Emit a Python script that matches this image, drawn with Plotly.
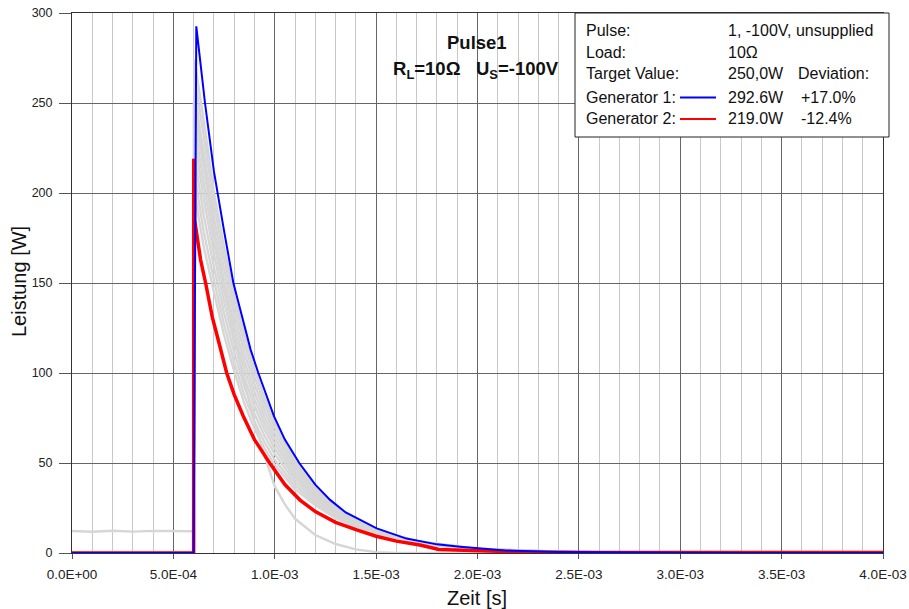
import plotly.graph_objects as go

# ---------------- data (time in ms, power in W) ----------------
blue_t_ms = [0, 0.600, 0.613, 0.656, 0.70, 0.717, 0.75, 0.796, 0.85, 0.881, 0.919, 0.95,
             0.996, 1.05, 1.121, 1.20, 1.273, 1.35, 1.503, 1.65, 1.80, 1.914, 2.14, 2.40,
             2.70, 3.00, 4.00]
blue_v = [0, 0, 292.6, 250, 212, 200, 179, 150, 127, 113, 100, 90,
          76, 63, 50, 38, 29.5, 22.5, 13.7, 8, 4.8, 3.5, 1.4, 0.6,
          0.2, 0.1, 0]

red_t_ms = [0, 0.600, 0.6005, 0.603, 0.605, 0.634, 0.659, 0.692, 0.729, 0.763, 0.80, 0.845,
            0.90, 0.975, 1.05, 1.125, 1.20, 1.30, 1.404, 1.50, 1.60, 1.716, 1.81, 2.00,
            2.20, 2.60, 3.00, 4.00]
red_v = [0, 0, 219, 217, 185, 163, 150, 131, 115, 100, 88, 76,
         63, 50, 38, 29.4, 23, 17, 12.8, 9.3, 6.6, 4.4, 2.0, 1.1,
         0.6, 0.3, 0.3, 0.3]

grey_t_ms = [0, 0.600, 0.604, 0.65, 0.70, 0.75, 0.80, 0.85, 0.90, 0.95, 1.00, 1.10, 1.20,
             1.30, 1.40, 1.50, 1.70, 2.00, 2.50, 3.00, 4.00]
grey_1 = [0, 0, 200, 170, 145, 121, 101, 83, 69, 58, 49, 35.5, 26.5, 19.5, 14.2, 10.3, 5.2, 1.8, 0.3, 0.1, 0]
grey_2 = [0, 0, 210, 178.4, 151.6, 126.9, 106, 87.6, 73, 61.4, 51.8, 37.4, 27.7, 20.3, 14.7, 10.6, 5.4, 1.9, 0.3, 0.1, 0]
grey_3 = [0, 0, 220, 187.5, 158.8, 133.3, 111.5, 92.5, 77.3, 65, 54.9, 39.5, 29, 21.1, 15.2, 11, 5.5, 1.9, 0.3, 0.1, 0]
grey_4 = [0, 0, 230, 196.6, 165.9, 139.6, 117, 97.4, 81.5, 68.6, 57.9, 41.6, 30.3, 22, 15.8, 11.3, 5.7, 2, 0.3, 0.1, 0]
grey_5 = [0, 0, 238, 205, 172.5, 145.5, 122, 102, 85.5, 72, 60.8, 43.5, 31.5, 22.8, 16.3, 11.7, 5.9, 2.1, 0.35, 0.1, 0]
grey_6 = [0, 0, 246, 213.4, 179.1, 151.4, 127, 106.6, 89.5, 75.4, 63.6, 45.4, 32.7, 23.5, 16.7, 12, 6, 2.1, 0.36, 0.1, 0]
grey_7 = [0, 0, 255, 222.5, 186.3, 157.8, 132.5, 111.5, 93.8, 79, 66.6, 47.5, 34, 24.4, 17.3, 12.3, 6.2, 2.2, 0.38, 0.1, 0]
grey_8 = [0, 0, 264, 231.6, 193.4, 164.1, 138, 116.4, 98, 82.6, 69.7, 49.6, 35.3, 25.2, 17.8, 12.7, 6.4, 2.2, 0.39, 0.1, 0]
grey_9 = [0, 0, 274, 240, 200, 170, 143, 121, 102, 86, 72.5, 51.5, 36.5, 26, 18.3, 13, 6.5, 2.3, 0.4, 0.1, 0]

fast_t_ms = [0, 0.10, 0.20, 0.30, 0.40, 0.50, 0.598, 0.601, 0.65, 0.70, 0.75, 0.80, 0.85,
             0.90, 0.95, 1.00, 1.05, 1.10, 1.20, 1.30, 1.40, 1.50, 1.60, 2.00, 3.00, 4.00]
fast_v = [12.2, 11.8, 12.4, 11.9, 12.3, 12.0, 12.1, 250, 215, 180, 148, 120, 95,
          73, 54, 37, 27, 19, 10, 5, 2, 0.5, 0, 0, 0, 0]

x_tickvals = [0, 5e-4, 1e-3, 1.5e-3, 2e-3, 2.5e-3, 3e-3, 3.5e-3, 4e-3]
x_ticktext = ["0.0E+00", "5.0E-04", "1.0E-03", "1.5E-03", "2.0E-03",
              "2.5E-03", "3.0E-03", "3.5E-03", "4.0E-03"]
y_tickvals = [0, 50, 100, 150, 200, 250, 300]

box_labels = ["Pulse:", "Load:", "Target Value:", "Generator 1:", "Generator 2:"]
box_values = ["1, -100V, unsupplied", "10Ω", "250,0W", "292.6W", "219.0W"]
box_extra = ["", "", "Deviation:", "+17.0%", "-12.4%"]


def sec(lst):
    return [v * 1e-3 for v in lst]


# ---------------- figure ----------------
fig = go.Figure()
GREY = "#d6d6d6"
for g in [grey_1, grey_2, grey_3, grey_4, grey_5, grey_6, grey_7, grey_8, grey_9]:
    fig.add_trace(go.Scatter(x=sec(grey_t_ms), y=g, mode="lines",
                             line=dict(color=GREY, width=2.4), hoverinfo="skip"))
fig.add_trace(go.Scatter(x=sec(fast_t_ms), y=fast_v, mode="lines",
                         line=dict(color=GREY, width=2.4), hoverinfo="skip"))
fig.add_trace(go.Scatter(x=sec(red_t_ms), y=red_v, mode="lines",
                         line=dict(color="#ff0000", width=3.5), name="Generator 2"))
fig.add_trace(go.Scatter(x=sec(blue_t_ms), y=blue_v, mode="lines",
                         line=dict(color="#0000ff", width=2), name="Generator 1"))

FONT = "Liberation Sans"
W, H = 909, 609
# plot area in page pixels: x 72..883, y 13..553
L, T, R, B = 72, 13, W - 883, H - 553
pw, ph = W - L - R, H - T - B


def px(x):  # page pixel -> paper
    return (x - L) / pw


def py(y):
    return (H - B - y) / ph


fig.update_layout(
    width=W, height=H,
    margin=dict(l=L, r=R, t=T, b=B, autoexpand=False),
    paper_bgcolor="white", plot_bgcolor="white",
    showlegend=False,
    font=dict(family=FONT, size=12, color="#222"),
)
fig.update_xaxes(
    range=[0, 4e-3], tickmode="array", tickvals=x_tickvals, ticktext=x_ticktext,
    automargin=False, ticklabeloverflow="allow",
    showgrid=True, gridcolor="#666666", gridwidth=1,
    minor=dict(tick0=0, dtick=1e-4, showgrid=True, gridcolor="#c8c8c8", gridwidth=1, ticks=""),
    showline=True, linecolor="#333333", linewidth=1, mirror=True,
    ticks="outside", ticklen=5, tickcolor="#555555", ticklabelstandoff=4,
    tickfont=dict(family=FONT, size=13.5, color="#222"), zeroline=False,
)
fig.update_yaxes(
    range=[0, 300], tickmode="array", tickvals=y_tickvals,
    automargin=False, ticklabeloverflow="allow",
    showgrid=True, gridcolor="#666666", gridwidth=1,
    showline=True, linecolor="#333333", linewidth=1, mirror=True,
    ticks="outside", ticklen=12, tickcolor="#555555", ticklabelstandoff=4,
    tickfont=dict(family=FONT, size=12.5, color="#222"), zeroline=False,
)


def note(text, x, y, size, xanchor="center", angle=0):
    return dict(text=text, x=px(x), y=py(y), xref="paper", yref="paper",
                xanchor=xanchor, yanchor="middle", textangle=angle, showarrow=False,
                font=dict(size=size, family=FONT, color="#111"))


ann = [
    note("Leistung [W]", 19, 282, 20, angle=-90),
    note("Zeit [s]", 477, 598, 20),
    note("<b>Pulse1</b>", 477, 42, 18.5),
    note("<b>R<sub>L</sub>=10Ω\u00a0\u00a0\u00a0U<sub>S</sub>=-100V</b>", 476, 70, 18.5),
]

rows_y = [30.7, 52.7, 73.8, 97.0, 118.5]
for lab, val, ext, yy in zip(box_labels, box_values, box_extra, rows_y):
    ann.append(note(lab, 584, yy, 16, xanchor="left"))
    ann.append(note(val, 726, yy, 16, xanchor="left"))
    if ext:
        xx = 796 if ext == "Deviation:" else 799
        ann.append(note(ext, xx, yy, 16, xanchor="left"))
fig.update_layout(annotations=ann)

shapes = [
    dict(type="rect", xref="paper", yref="paper", x0=px(575), x1=px(889), y0=py(137), y1=py(13),
         fillcolor="white", line=dict(color="#222222", width=1), layer="above"),
    dict(type="line", xref="paper", yref="paper", x0=px(680), x1=px(716), y0=py(97.5), y1=py(97.5),
         line=dict(color="#0000ff", width=2), layer="above"),
    dict(type="line", xref="paper", yref="paper", x0=px(680), x1=px(716), y0=py(119), y1=py(119),
         line=dict(color="#ff0000", width=2), layer="above"),
]
fig.update_layout(shapes=shapes)

fig.write_html("out.html", config={"displayModeBar": False},
               post_script="document.body.style.margin='0';document.body.style.overflow='hidden';")
